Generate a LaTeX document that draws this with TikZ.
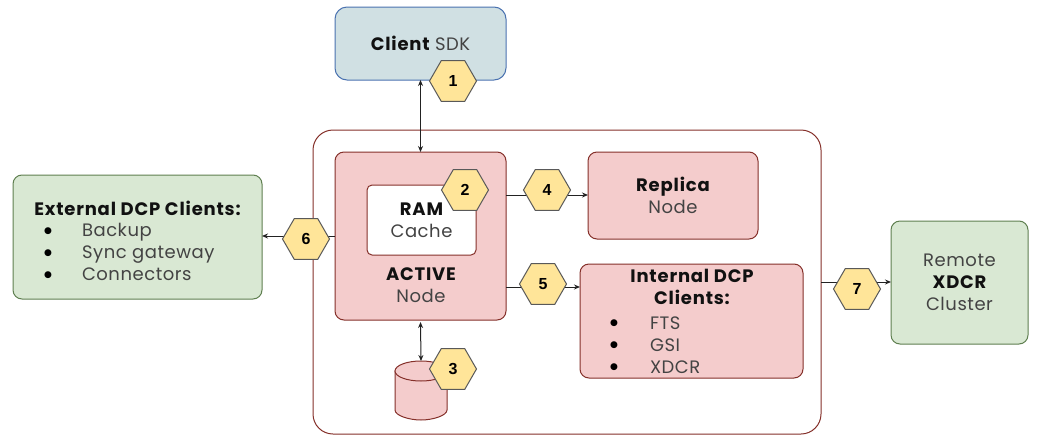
\documentclass[tikz,border=0pt]{standalone}
\usepackage{fontspec}
\setmainfont[LetterSpace=3,BoldFeatures={LetterSpace=4.5}]{Poppins}
\newfontfamily\numfont{Liberation Sans}
\newfontfamily\bulfont{DejaVu Sans}
\usetikzlibrary{arrows.meta}
\definecolor{txtg}{HTML}{434343}
\definecolor{txtb}{HTML}{111111}
\definecolor{redb}{HTML}{85302A}
\definecolor{pink}{HTML}{F4CCCC}
\definecolor{greenf}{HTML}{D9E8D3}
\definecolor{greenb}{HTML}{5F7F50}
\definecolor{bluef}{HTML}{D0E0E3}
\definecolor{blueb}{HTML}{4A72B0}
\definecolor{hexf}{HTML}{FFE599}
\definecolor{hexb}{HTML}{595959}
\definecolor{arrc}{HTML}{222222}
\newcommand{\bt}[1]{{\bfseries\color{txtb}#1}}
\newcommand{\tfont}{\fontsize{18}{22}\selectfont}
\usetikzlibrary{shapes.geometric}
\tikzset{
  x=1pt,y=-1pt,
  base/.style={inner sep=0pt,outer sep=0pt,line width=1pt,align=center,text=txtg,font=\tfont},
  box/.style={base,draw,rectangle,rounded corners=#1},
  box/.default=9pt,
  redbox/.style={box,draw=redb,fill=pink},
  greenbox/.style={box,draw=greenb,fill=greenf},
  plain/.style={inner sep=0pt,outer sep=0pt,align=center,text=txtg,font=\tfont},
  item/.style={plain,anchor=base west},
  bul/.style={inner sep=0pt,outer sep=0pt,text=black,font=\bulfont\fontsize{9}{9}\selectfont},
  hex/.style={regular polygon,regular polygon sides=6,minimum size=47pt,inner sep=0pt,outer sep=0pt,
    draw=hexb,fill=hexf,line width=1pt,text=black,font=\numfont\bfseries\fontsize{16}{16}\selectfont},
  conn/.style={draw=arrc,line width=1pt,-{Stealth[length=6pt,width=5pt]}},
  conn2/.style={draw=arrc,line width=1pt,{Stealth[length=6pt,width=5pt]}-{Stealth[length=6pt,width=5pt]}},
}
\begin{document}
\begin{tikzpicture}
\useasboundingbox (0,0) rectangle (1039,445);
% boxes
\node[box=20pt,draw=redb,fill=white,minimum width=508pt,minimum height=304pt] (outer) at (567,282) {};
\node[box=12pt,draw=blueb,fill=bluef,minimum width=171pt,minimum height=73pt] (client) at (420.5,43.5) {\bt{Client} SDK};
\node[redbox,minimum width=171pt,minimum height=168pt] (active) at (420.5,236) {};
\node[box=5pt,draw=redb,fill=white,minimum width=109pt,minimum height=70pt] (ram) at (421.5,220) {\bt{RAM}\\Cache};
\node[plain] (activetext) at (421,285) {\bt{ACTIVE}\\Node};
\node[redbox,minimum width=170pt,minimum height=87pt] (replica) at (673,195.5) {\bt{Replica}\\Node};
\node[redbox,minimum width=223pt,minimum height=114pt] (internal) at (691.5,321) {};
\node[plain] (inttext) at (692,287) {\bt{Internal DCP}\\\bt{Clients:}};
\node[greenbox,minimum width=249pt,minimum height=124pt] (external) at (137.5,237) {};
\node[plain] (exttext) at (137.5,208) {\bt{External DCP Clients:}};
\node[greenbox,minimum width=137pt,minimum height=123pt] (remote) at (959.5,282.5) {Remote\\\bt{XDCR}\\Cluster};
% cylinder
\node[inner sep=0pt,outer sep=0pt,minimum width=52pt,minimum height=60pt] (disk) at (421,391) {};
\path[fill=pink,draw=redb,line width=1pt] (disk.west |- 0,371) -- (disk.west |- 0,410)
  .. controls (395,415.5) and (409,420) .. (421,420)
  .. controls (433,420) and (447,415.5) .. (447,410) -- (447,371) -- cycle;
\path[fill=pink,draw=redb,line width=1pt] (421,371) ellipse [x radius=26pt,y radius=10pt];
% list items
\node[bul] (eb1) at (48,231) {●};
\node[bul] (eb2) at (48,253) {●};
\node[bul] (eb3) at (48,275) {●};
\node[item] (e1) at (82,236) {Backup};
\node[item] (e2) at (82,258) {Sync gateway};
\node[item] (e3) at (82,280) {Connectors};
\node[bul] (ib1) at (614,323) {●};
\node[bul] (ib2) at (614,345) {●};
\node[bul] (ib3) at (614,367) {●};
\node[item] (i1) at (650,329) {FTS};
\node[item] (i2) at (650,351) {GSI};
\node[item] (i3) at (650,373) {XDCR};
% connector levels
\coordinate (y4) at (0,195);
\coordinate (y5) at (0,287);
\coordinate (y6) at (0,236);
\coordinate (y7) at (0,282);
% connectors
\draw[conn2] (client.south) -- (active.north);
\draw[conn2] ([yshift=-2pt]active.south) -- (disk.north);
\draw[conn] (active.east |- y4) -- (replica.west |- y4);
\draw[conn] (active.east |- y5) -- (internal.west |- y5);
\draw[conn] (active.west |- y6) -- (external.east |- y6);
\draw[conn] (outer.east |- y7) -- (remote.west |- y7);
% hexagons
\node[hex] (h1) at (453,81) {1};
\node[hex] (h2) at (465,190) {2};
\node[hex] (h3) at (453,369) {3};
\node[hex] (h4) at (547,190) {4};
\node[hex] (h5) at (543,284) {5};
\node[hex] (h6) at (306,239) {6};
\node[hex] (h7) at (857,289) {7};
\end{tikzpicture}
\end{document}
